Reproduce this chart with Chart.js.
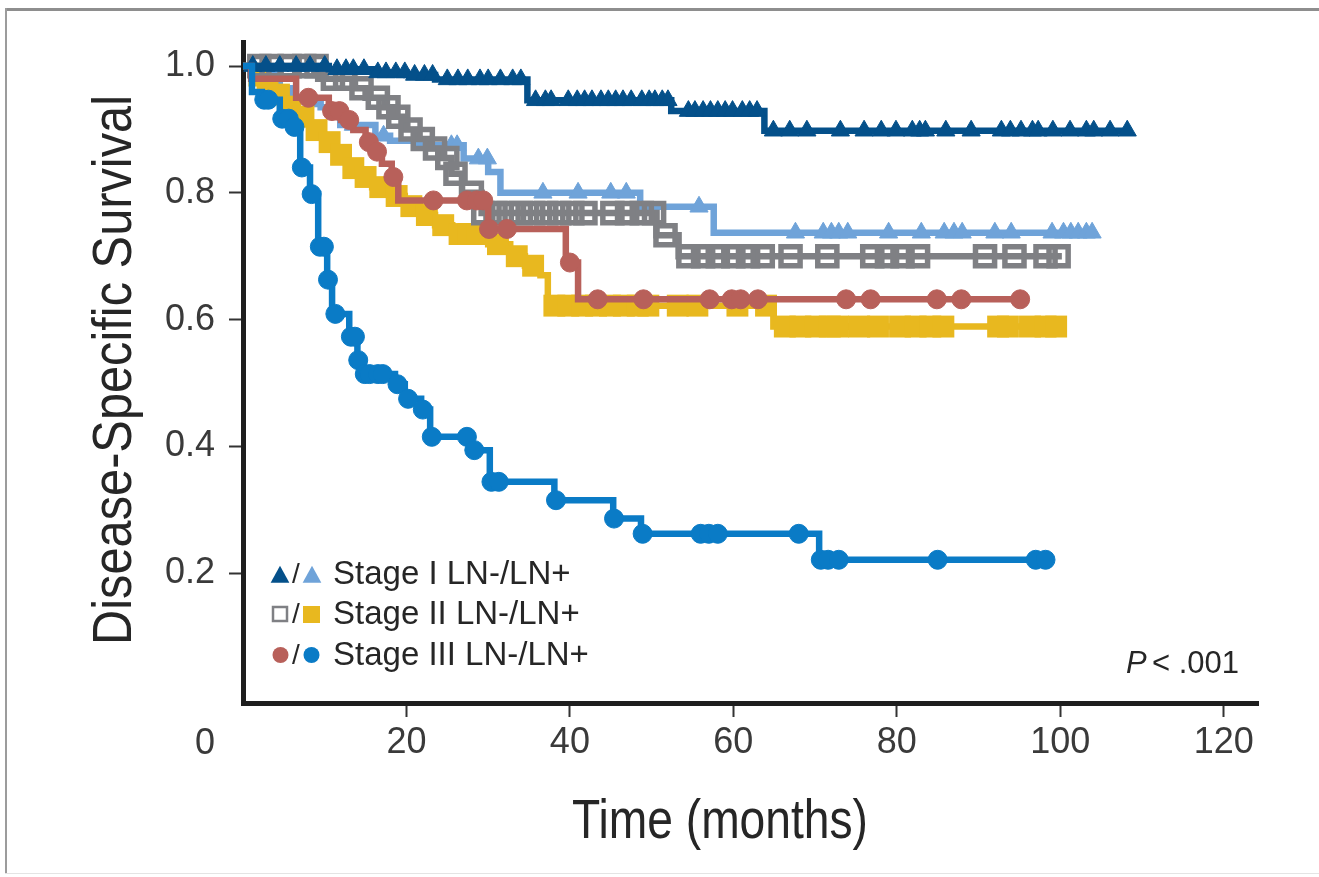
<!DOCTYPE html>
<html><head><meta charset="utf-8">
<script src="https://cdn.jsdelivr.net/npm/chart.js@4.4.1/dist/chart.umd.min.js"></script>
<style>
html,body{margin:0;padding:0;background:#fff;overflow:hidden;}
#wrap{position:relative;width:1319px;height:877px;overflow:hidden;}
.fl{position:absolute;background:#8e8e8e;}
canvas{position:absolute;left:0;top:0;}
</style></head><body>
<div id="wrap">
<div class="fl" style="left:5px;top:8px;width:1314px;height:3px;"></div>
<div class="fl" style="left:5px;top:8px;width:2px;height:866px;background:#9c9c9c;"></div>
<div class="fl" style="left:5px;top:873px;width:1314px;height:1px;background:#e4e4e4;"></div>
<canvas id="c" width="1319" height="877"></canvas></div>
<script>
// ---- tick labels ----
const xTicks = [20, 40, 60, 80, 100, 120];
const yTicks = [0.2, 0.4, 0.6, 0.8, 1.0];
const legendLabels = ['Stage I LN-/LN+', 'Stage II LN-/LN+', 'Stage III LN-/LN+'];

// ---- Stage I LN- (dark blue, triangles) ----
const s1nTimes = [0, 10.5, 16, 20, 23.5, 34.8, 52.4, 63.8, 108.2];
const s1nSurv  = [1.0, 0.995, 0.99, 0.986, 0.979, 0.946, 0.929, 0.898, 0.898];
const s1nCens  = [1.2, 2.8, 4.5, 6.5, 8.2, 10, 11.5, 12.6, 13.5, 14.8, 16.5, 17.5, 18.7, 19.8, 21, 22.2, 23.2, 25, 26.3, 27.5, 29, 30, 31.5, 33, 34,
  35.8, 37, 37.7, 39.8, 40.9, 41.8, 42.7, 43.8, 44.7, 45.6, 46.5, 47.5, 48.8, 49.7, 50.4, 51.3, 52.0, 54.5, 55.3, 56.3, 57.2, 58.1, 59, 59.9, 61.1, 62, 62.9,
  64.9, 66.9, 69, 73.1, 76, 78.1, 79.9, 81.9, 82.8, 83.5, 86, 89.1, 92.8, 93.9, 95.2, 96.6, 97.3, 99.1, 101.2, 103.2, 104.1, 106.1, 108.2];

// ---- Stage I LN+ (light blue, triangles) ----
const s1pTimes = [0, 2.3, 4.5, 5.8, 8, 9.5, 11.9, 16.2, 18, 21, 27, 30, 31.5, 48.6, 57.6, 103.9];
const s1pSurv  = [1.0, 0.986, 0.965, 0.95, 0.94, 0.935, 0.907, 0.89, 0.882, 0.875, 0.854, 0.833, 0.80, 0.778, 0.737, 0.737];
const s1pCens  = [5.9, 13.5, 17.2, 25.5, 26.2, 28.8, 29.9, 36.7, 41, 45, 46.9, 55.8, 67.6, 71, 72, 72.9, 74, 79, 83, 85.8, 87, 88, 92, 94, 99, 100.4, 101.3, 102.2, 103.2, 103.9];

// ---- Stage II LN- (gray, open squares) ----
const s2nTimes = [0, 9.2, 13.7, 15.0, 17.3, 18.4, 19.6, 21.2, 22.8, 24.2, 25.5, 26.8, 29.2, 50.6, 53.3, 100.2];
const s2nSurv  = [1.0, 0.98, 0.965, 0.95, 0.935, 0.92, 0.90, 0.885, 0.87, 0.855, 0.83, 0.80, 0.768, 0.733, 0.70, 0.70];
const s2nCens  = [2, 3.5, 5.7, 7.5, 9.0, 11, 12.5, 14.5, 16.5, 17.8, 19, 20.5, 22, 23.5, 25, 26, 28,
  29.4, 30.9, 32.5, 34, 35.5, 37.1, 38.7, 40.3, 41.9, 45.2, 47, 48.8, 50.3, 51.7,
  54.5, 56.3, 58.1, 60, 61.8, 63.6, 67, 71.5, 77, 78.8, 80.7, 82.6, 90.8, 94.4, 98.2, 99.8];

// ---- Stage II LN+ (yellow, filled squares) ----
const s2pTimes = [0, 1.5, 2.3, 3.7, 5.1, 6.7, 8.2, 9.8, 11.4, 12.8, 14.3, 15.8, 18.0, 19.8, 21.7, 23.5, 25.6, 30.0, 32.7, 34.5, 36.4, 37.3, 64.9, 100.2];
const s2pSurv  = [1.0, 0.985, 0.971, 0.955, 0.936, 0.92, 0.899, 0.88, 0.86, 0.839, 0.825, 0.809, 0.795, 0.779, 0.765, 0.749, 0.735, 0.719, 0.70, 0.685, 0.67, 0.622, 0.589, 0.589];
const s2pCens  = [2.0, 3.0, 4.4, 5.8, 7.4, 9.0, 10.6, 12.0, 13.5, 15.0, 16.8, 18.8, 20.6, 22.5, 24.5, 26.5, 27.6, 28.7, 31.2, 33.5, 35.5,
  38.1, 39.8, 41.5, 43.2, 44.9, 46.6, 48.3, 49.6, 53.2, 55.6, 60.5, 64.0, 66.3, 68.2, 70.1, 71.8, 72.8, 75.4, 77.7, 80.4, 82.3, 84.1, 85.7, 92.4, 93.6, 96.3, 98.2, 99.5];

// ---- Stage III LN- (red, circles) ----
const s3nTimes = [0, 1.0, 6.5, 10.5, 12.0, 13.5, 15.0, 16.0, 17.0, 18.2, 19.0, 30.0, 39.5, 41.0, 95.1];
const s3nSurv  = [1.0, 0.98, 0.95, 0.929, 0.915, 0.899, 0.88, 0.865, 0.846, 0.825, 0.788, 0.743, 0.69, 0.632, 0.632];
const s3nCens  = [8.0, 10.9, 11.8, 13.0, 15.4, 16.4, 18.4, 23.3, 27.4, 28.6, 29.4, 30.1, 32.3, 40.0, 43.4, 49.0, 57.1, 59.8, 60.9, 63.0, 73.8, 76.8, 84.9, 87.9, 95.1];

// ---- Stage III LN+ (blue, circles) ----
const s3pTimes = [0, 1.1, 2.3, 4.5, 5.8, 6.5, 7.0, 8.2, 9.2, 10.3, 10.9, 13.0, 14.0, 14.6, 18.6, 19.8, 21.8, 22.9, 28.0, 30.2, 38.1, 45.3, 48.7, 70.5, 98.4];
const s3pSurv  = [1.0, 0.959, 0.947, 0.917, 0.904, 0.897, 0.84, 0.798, 0.715, 0.663, 0.609, 0.573, 0.536, 0.514, 0.498, 0.475, 0.458, 0.415, 0.394, 0.344, 0.315, 0.286, 0.262, 0.221, 0.221];
const s3pCens  = [2.6, 3.1, 4.8, 5.6, 6.3, 7.2, 8.4, 9.4, 9.9, 10.4, 11.3, 13.2, 13.7, 14.1, 14.9, 15.5, 16.5, 17.1, 18.9, 20.2, 22.0, 23.1, 27.4, 28.3, 30.4, 31.3, 38.3, 45.4, 48.9, 56.0, 57.0, 58.1, 68.0, 70.7, 71.6, 72.9, 85.0, 97.0, 98.2];

const C = {
  dkblue: '#04508a', ltblue: '#6fa3d9', gray: '#7f8084', yellow: '#e8b81f', red: '#b8605a', blue: '#0a7bc6'
};

function stepData(T, S) { return T.map((t, i) => ({ x: t, y: S[i] })); }
function survAt(T, S, t) { let s = S[0]; for (let i = 0; i < T.length; i++) { if (T[i] <= t) s = S[i]; } return s; }
function censData(T, S, Cs) { return Cs.map(t => ({ x: t, y: survAt(T, S, t) })); }

function lineDs(T, S, color, order) {
  return { data: stepData(T, S), showLine: true, stepped: 'before', borderColor: color, borderWidth: 6.5,
    pointRadius: 0, fill: false, order: order, borderJoinStyle: 'miter', borderCapStyle: 'butt' };
}
function markDs(T, S, Cs, style, color, order, radius, opts) {
  return Object.assign({ data: censData(T, S, Cs), showLine: false, pointStyle: style, pointRadius: radius,
    pointBackgroundColor: color, pointBorderColor: color, pointBorderWidth: 1, order: order }, opts || {});
}

const datasets = [
  lineDs(s1pTimes, s1pSurv, C.ltblue, 12),
  markDs(s1pTimes, s1pSurv, s1pCens, 'triangle', C.ltblue, 11, 10.5),
  lineDs(s2pTimes, s2pSurv, C.yellow, 10),
  markDs(s2pTimes, s2pSurv, s2pCens, 'rect', C.yellow, 9, 15.5, { pointBorderWidth: 0 }),
  lineDs(s2nTimes, s2nSurv, C.gray, 8),
  markDs(s2nTimes, s2nSurv, s2nCens, 'rect', 'rgba(0,0,0,0)', 7, 13.5, { pointBorderColor: C.gray, pointBorderWidth: 5.5 }),
  lineDs(s1nTimes, s1nSurv, C.dkblue, 6),
  markDs(s1nTimes, s1nSurv, s1nCens, 'triangle', C.dkblue, 5, 10.5),
  lineDs(s3nTimes, s3nSurv, C.red, 4),
  markDs(s3nTimes, s3nSurv, s3nCens, 'circle', C.red, 3, 9.5),
  lineDs(s3pTimes, s3pSurv, C.blue, 2),
  markDs(s3pTimes, s3pSurv, s3pCens, 'circle', C.blue, 1, 9.5)
];

const FONT = '"Liberation Sans", Arial, Helvetica, sans-serif';

function condensedText(ctx, text, x, y, size, targetW, rot) {
  ctx.save();
  ctx.font = size + 'px ' + FONT;
  const w = ctx.measureText(text).width;
  ctx.translate(x, y);
  if (rot) ctx.rotate(rot);
  ctx.scale(targetW / w, 1);
  ctx.textAlign = 'center';
  ctx.textBaseline = 'alphabetic';
  ctx.fillText(text, 0, 0);
  ctx.restore();
}

function tri(ctx, cx, cy, s, color) {
  ctx.fillStyle = color; ctx.beginPath();
  ctx.moveTo(cx, cy - s * 0.55); ctx.lineTo(cx + s * 0.55, cy + s * 0.45); ctx.lineTo(cx - s * 0.55, cy + s * 0.45);
  ctx.closePath(); ctx.fill();
}

const annot = {
  id: 'annot',
  afterDraw(chart) {
    const ctx = chart.ctx;
    const xs = chart.scales.x;
    ctx.save();
    ctx.fillStyle = '#262626';
    // axis titles
    condensedText(ctx, 'Time (months)', 720, 838, 56, 296, 0);
    condensedText(ctx, 'Disease-Specific Survival', 131, 370, 56, 550, -Math.PI / 2);
    // "0" label at origin corner
    ctx.font = '36px ' + FONT; ctx.fillStyle = '#3a3a3a';
    ctx.textAlign = 'center'; ctx.textBaseline = 'alphabetic';
    ctx.fillText('0', xs.getPixelForValue(0) - 38, 754);
    // legend
    const rows = [584, 624, 665];
    ctx.font = '33px ' + FONT; ctx.fillStyle = '#262626'; ctx.textAlign = 'left';
    legendLabels.forEach((t, i) => ctx.fillText(t, 333, rows[i]));
    ctx.font = '28px ' + FONT; ctx.fillStyle = '#262626'; ctx.textAlign = 'center';
    rows.forEach(r => ctx.fillText('/', 296, r - 1));
    // row 1 triangles
    tri(ctx, 280, rows[0] - 9, 17, C.dkblue);
    tri(ctx, 312, rows[0] - 9, 17, C.ltblue);
    // row 2 squares
    ctx.strokeStyle = C.gray; ctx.lineWidth = 2.5;
    ctx.strokeRect(273, rows[1] - 17, 14, 14);
    ctx.fillStyle = C.yellow; ctx.fillRect(303, rows[1] - 18, 17, 17);
    // row 3 circles
    ctx.fillStyle = C.red; ctx.beginPath(); ctx.arc(280.5, rows[2] - 10, 8, 0, Math.PI * 2); ctx.fill();
    ctx.fillStyle = C.blue; ctx.beginPath(); ctx.arc(311.5, rows[2] - 10, 8, 0, Math.PI * 2); ctx.fill();
    // P value
    ctx.fillStyle = '#262626'; ctx.textAlign = 'left';
    ctx.font = 'italic 31px ' + FONT; ctx.fillText('P', 1126, 673);
    ctx.font = '31px ' + FONT; ctx.fillText('< .001', 1152, 673);
    ctx.restore();
  }
};

new Chart(document.getElementById('c'), {
  type: 'scatter',
  data: { datasets },
  options: {
    responsive: false, animation: false, devicePixelRatio: 1, events: [],
    layout: { padding: { top: 42, right: 61, left: 0, bottom: 0 } },
    plugins: { legend: { display: false }, tooltip: { enabled: false }, title: { display: false } },
    scales: {
      x: {
        type: 'linear', min: 0, max: 124.2,
        afterBuildTicks: s => { s.ticks = xTicks.map(v => ({ value: v })); },
        afterFit: s => { s.height = 877 - 703; },
        ticks: { font: { family: FONT, size: 36 }, color: '#3a3a3a', padding: 4, maxRotation: 0, autoSkip: false },
        grid: { display: true, drawOnChartArea: false, drawTicks: true, tickLength: 14, tickWidth: 2, tickColor: '#333' },
        border: { display: true, color: '#1e1e1e', width: 5 }
      },
      y: {
        type: 'linear', min: -0.005, max: 1.038,
        afterBuildTicks: s => { s.ticks = yTicks.map(v => ({ value: v })); },
        afterFit: s => { s.width = 243; },
        ticks: { font: { family: FONT, size: 36 }, color: '#3a3a3a', padding: 14, callback: v => Number(v).toFixed(1) },
        grid: { display: true, drawOnChartArea: false, drawTicks: true, tickLength: 14, tickWidth: 2, tickColor: '#333' },
        border: { display: true, color: '#1e1e1e', width: 5 }
      }
    }
  },
  plugins: [annot]
});
</script>
</body></html>
